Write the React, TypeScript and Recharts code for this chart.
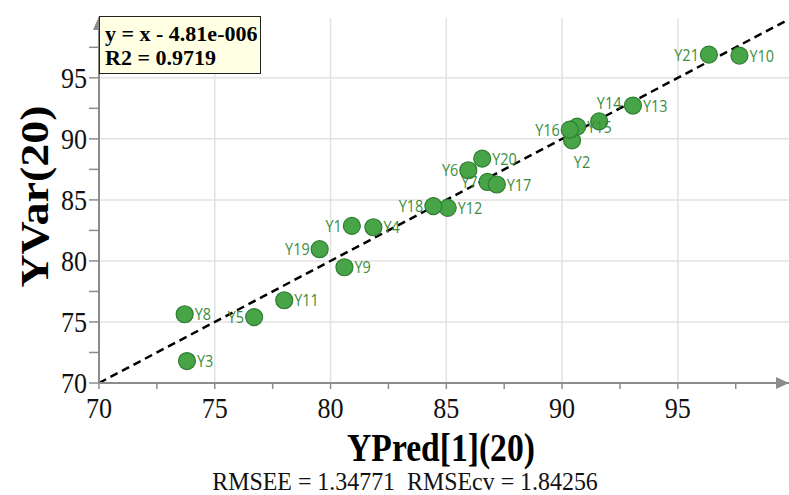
import {
  ScatterChart,
  Scatter,
  XAxis,
  YAxis,
  CartesianGrid,
  ReferenceLine,
  ReferenceDot,
} from "recharts";

const names = [
  "Y1", "Y2", "Y3", "Y4", "Y5", "Y6", "Y7", "Y8", "Y9", "Y10", "Y11",
  "Y12", "Y13", "Y14", "Y15", "Y16", "Y17", "Y18", "Y19", "Y20", "Y21",
];
const yPred = [
  80.92, 90.43, 73.8, 81.85, 76.7, 85.95, 86.78, 73.7, 80.6, 97.66, 78.0,
  85.06, 93.06, 91.6, 90.65, 90.33, 87.18, 84.44, 79.53, 86.55, 96.34,
];
const yVar = [
  82.87, 89.88, 71.8, 82.76, 75.4, 87.43, 86.47, 75.63, 79.48, 96.82, 76.78,
  84.35, 92.73, 91.43, 91.0, 90.75, 86.26, 84.49, 80.96, 88.38, 96.9,
];
const ticks = [70, 72.5, 75, 77.5, 80, 82.5, 85, 87.5, 90, 92.5, 95, 97.5];
const gridValues = [75, 80, 85, 90, 95];
const xMin = 70;
const xMax = 99.8;
const yMin = 70;
const yMax = 99.9;

const points = names.map((name, i) => ({ name, x: yPred[i], y: yVar[i] }));

// which side of the marker each label sits on (default: right)
const labelSide: Record<string, string> = {
  Y1: "left", Y5: "left", Y6: "left", Y7: "left", Y16: "left",
  Y18: "left", Y19: "left", Y21: "left", Y2: "below", Y14: "above",
};

const serif = '"Liberation Serif", "Times New Roman", serif';
const sx = 0.87;

function PointShape(props: any) {
  const { cx, cy, payload } = props;
  const side = labelSide[payload.name] || "right";
  let tx = cx + 10;
  let ty = cy + 6;
  let anchor = "start";
  if (side === "left") {
    tx = cx - 10;
    anchor = "end";
  } else if (side === "below") {
    anchor = "middle";
    ty = cy + 28;
  } else if (side === "above") {
    anchor = "middle";
    ty = cy - 12;
  }
  return (
    <g>
      <circle cx={cx} cy={cy} r={8.5} fill="#47a447" stroke="#2f7d32" strokeWidth={1.2} />
      <text
        transform={`translate(${tx},${ty}) scale(0.85,1)`}
        textAnchor={anchor}
        fontFamily='"Open Sans", sans-serif'
        fontSize={17}
        fill="#3d8c3d"
      >
        {payload.name}
      </text>
    </g>
  );
}

function XTick(props: any) {
  const { x, y, payload } = props;
  if (payload.value % 5 !== 0) return null;
  return (
    <text
      transform={`translate(${x},${y + 27}) scale(${sx},1)`}
      textAnchor="middle"
      fontFamily={serif}
      fontSize={30}
      fill="#111"
    >
      {payload.value}
    </text>
  );
}

function YTick(props: any) {
  const { x, y, payload } = props;
  if (payload.value % 5 !== 0) return null;
  return (
    <text
      transform={`translate(${x},${y + 10}) scale(${sx},1)`}
      textAnchor="end"
      fontFamily={serif}
      fontSize={30}
      fill="#111"
    >
      {payload.value}
    </text>
  );
}

function XTitle(props: any) {
  const { viewBox } = props;
  const cx = viewBox.x + viewBox.width / 2;
  return (
    <g>
      <text
        transform={`translate(${cx - 3},${viewBox.y + 78}) scale(0.84,1)`}
        textAnchor="middle"
        fontFamily={serif}
        fontWeight="bold"
        fontSize={40}
        fill="#000"
      >
        YPred[1](20)
      </text>
      <text
        transform={`translate(${cx - 39},${viewBox.y + 107}) scale(0.92,1)`}
        textAnchor="middle"
        fontFamily={serif}
        fontSize={26}
        fill="#111"
        style={{ whiteSpace: "pre" }}
      >
        {"RMSEE = 1.34771  RMSEcv = 1.84256"}
      </text>
    </g>
  );
}

function YTitle(props: any) {
  const { viewBox } = props;
  const cy = viewBox.y + viewBox.height / 2;
  return (
    <text
      transform={`translate(48,${cy - 4}) scale(${sx},1) rotate(-90)`}
      textAnchor="middle"
      fontFamily={serif}
      fontWeight="bold"
      fontSize={46}
      fill="#000"
    >
      YVar(20)
    </text>
  );
}

const arrowRight = (p: any) => (
  <path d={`M${p.cx},${p.cy} l-13,-6 v12 z`} fill="#8c8c8c" />
);
const arrowUp = (p: any) => (
  <path d={`M${p.cx},${p.cy - 2} l-6,14 h12 z`} fill="#8c8c8c" />
);

export default function App() {
  return (
    <div
      style={{
        position: "absolute",
        left: 0,
        top: 0,
        width: 789,
        height: 495,
        background: "white",
      }}
    >
      <ScatterChart
        width={789}
        height={495}
        margin={{ top: 18, right: 0, bottom: 0, left: 0 }}
      >
        <CartesianGrid
          stroke="#e2e2e2"
          strokeWidth={1.5}
          horizontalValues={gridValues}
          verticalValues={gridValues}
        />
        <XAxis
          type="number"
          dataKey="x"
          domain={[xMin, xMax]}
          ticks={ticks}
          interval={0}
          height={112}
          axisLine={{ stroke: "#8c8c8c", strokeWidth: 2 }}
          tickLine={{ stroke: "#8c8c8c", strokeWidth: 1.5 }}
          tickSize={6}
          tick={<XTick />}
          label={{ content: <XTitle /> }}
          allowDataOverflow
        />
        <YAxis
          type="number"
          dataKey="y"
          domain={[yMin, yMax]}
          ticks={ticks}
          interval={0}
          width={99}
          axisLine={{ stroke: "#8c8c8c", strokeWidth: 2 }}
          tickLine={{ stroke: "#8c8c8c", strokeWidth: 1.5 }}
          tickSize={10}
          tick={<YTick />}
          label={{ content: <YTitle /> }}
          allowDataOverflow
        />
        <ReferenceLine
          segment={[
            { x: xMin, y: yMin },
            { x: xMax, y: xMax },
          ]}
          stroke="#000"
          strokeWidth={2.5}
          strokeDasharray="8 5"
          ifOverflow="visible"
        />
        <Scatter data={points} shape={PointShape} isAnimationActive={false} />
        <ReferenceDot x={xMax} y={yMin} ifOverflow="visible" shape={arrowRight} />
        <ReferenceDot x={xMin} y={yMax} ifOverflow="visible" shape={arrowUp} />
      </ScatterChart>
      <div
        style={{
          position: "absolute",
          left: 99,
          top: 16,
          width: 162,
          height: 58,
          border: "1.5px solid #222",
          background: "#ffffe4",
          fontFamily: serif,
          fontWeight: "bold",
          fontSize: 22,
          lineHeight: "24px",
          color: "#000",
          paddingLeft: 5,
          paddingTop: 5,
          boxSizing: "border-box",
          whiteSpace: "nowrap",
        }}
      >
        <div>y = x - 4.81e-006</div>
        <div>R2 = 0.9719</div>
      </div>
    </div>
  );
}
